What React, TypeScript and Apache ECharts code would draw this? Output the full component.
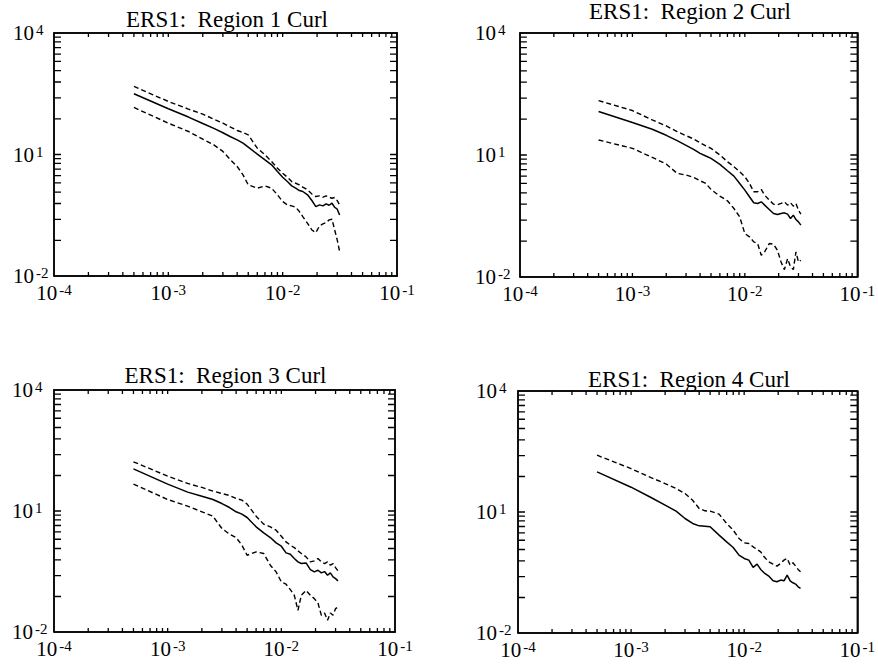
import React, { useEffect, useRef } from 'react';
import * as echarts from 'echarts';

// frequency (shared by all panels)
const freq = [0.0005, 0.001, 0.0015, 0.002, 0.0025, 0.003, 0.0035, 0.004, 0.0045, 0.005, 0.006, 0.007, 0.008, 0.009, 0.010, 0.011, 0.012, 0.013, 0.014, 0.015, 0.0165, 0.018, 0.0195, 0.021, 0.0225, 0.024, 0.0255, 0.027, 0.0285, 0.030, 0.0315];

// Region 1
const r1Curl = [316, 135, 84, 58.3, 44.0, 34.4, 27.4, 23.0, 19.1, 15.2, 10.2, 7.38, 5.55, 3.80, 2.75, 2.15, 1.68, 1.47, 1.29, 1.22, 1.01, 0.73, 0.518, 0.57, 0.538, 0.603, 0.558, 0.627, 0.499, 0.446, 0.322];
const r1Upper = [480, 204, 132, 99.3, 74.6, 59.6, 47.4, 39.2, 35.0, 30.6, 14.3, 9.82, 6.71, 4.59, 3.45, 2.75, 2.15, 1.95, 1.78, 1.56, 1.34, 1.06, 0.916, 0.951, 0.881, 0.951, 0.881, 0.832, 0.865, 0.729, 0.570];
const r1Lower = [145, 59.4, 37.0, 23.9, 17.3, 11.9, 7.38, 5.05, 3.14, 1.78, 1.47, 1.68, 1.47, 1.01, 0.689, 0.570, 0.538, 0.499, 0.390, 0.293, 0.200, 0.137, 0.118, 0.172, 0.193, 0.208, 0.243, 0.252, 0.137, 0.0776, 0.040];

// Region 2
const r2Curl = [117, 62.7, 42.9, 30.5, 22.5, 17.3, 13.8, 11.0, 9.44, 8.26, 5.89, 4.11, 3.03, 2.00, 1.37, 0.94, 0.668, 0.643, 0.706, 0.585, 0.457, 0.365, 0.344, 0.365, 0.378, 0.351, 0.274, 0.332, 0.259, 0.227, 0.188];
const r2Upper = [218, 124, 72.8, 51.9, 37.6, 29.9, 24.8, 20.1, 16.7, 14.6, 10.0, 6.84, 5.15, 3.88, 2.92, 2.00, 1.25, 1.25, 1.42, 1.03, 0.776, 0.619, 0.596, 0.643, 0.706, 0.585, 0.668, 0.552, 0.643, 0.441, 0.351];
const r2Lower = [23.4, 14.6, 8.75, 6.00, 3.53, 3.21, 2.81, 2.33, 2.00, 1.42, 0.975, 0.748, 0.484, 0.302, 0.117, 0.097, 0.073, 0.0664, 0.0343, 0.0414, 0.0664, 0.064, 0.0455, 0.0234, 0.0152, 0.0283, 0.0177, 0.0152, 0.0414, 0.0234, 0.0258];

// Region 3
const r3Curl = [111, 46.3, 29.4, 23.3, 19.3, 15.3, 12.2, 9.55, 8.36, 6.90, 4.05, 2.87, 2.20, 1.62, 1.34, 0.916, 0.849, 0.662, 0.547, 0.498, 0.516, 0.353, 0.309, 0.340, 0.292, 0.315, 0.255, 0.292, 0.232, 0.211, 0.185];
const r3Upper = [166, 73.3, 48.2, 38.4, 31.1, 27.2, 24.3, 20.5, 18.6, 14.8, 7.45, 4.71, 4.05, 3.34, 2.37, 1.72, 1.42, 1.24, 1.03, 0.881, 0.728, 0.547, 0.579, 0.662, 0.547, 0.498, 0.547, 0.452, 0.498, 0.396, 0.327];
const r3Lower = [46.3, 19.3, 13.2, 9.55, 7.45, 3.68, 2.66, 2.20, 1.42, 0.80, 0.97, 0.881, 0.452, 0.309, 0.175, 0.153, 0.112, 0.0815, 0.0345, 0.0815, 0.108, 0.0815, 0.0673, 0.0525, 0.0259, 0.0296, 0.0195, 0.0296, 0.0259, 0.038, 0.0418];

// Region 4
const r4Curl = [98.9, 41.2, 22.9, 14.8, 10.5, 6.90, 5.19, 4.54, 4.46, 4.30, 2.67, 1.82, 1.32, 0.853, 0.705, 0.641, 0.423, 0.511, 0.377, 0.311, 0.258, 0.197, 0.186, 0.205, 0.197, 0.273, 0.197, 0.176, 0.163, 0.140, 0.127];
const r4Upper = [256, 119, 71.4, 50.8, 38.2, 28.7, 19.6, 12.2, 10.7, 10.5, 8.83, 5.19, 3.55, 2.21, 1.72, 1.66, 1.37, 1.18, 1.03, 0.776, 0.583, 0.511, 0.456, 0.531, 0.641, 0.705, 0.482, 0.551, 0.456, 0.377, 0.330];

const titles = ['ERS1:  Region 1 Curl', 'ERS1:  Region 2 Curl', 'ERS1:  Region 3 Curl', 'ERS1:  Region 4 Curl'];

// tick label exponents (powers of ten)
const xLabelExps = [-4, -3, -2, -1];
const yLabelExps = [-2, 1, 4];
// tick positions (exponents) on the y axes, ascending
const yTickExps = [-1.12, -0.6, -0.21, 0.07, 0.3, 0.48, 0.64, 0.78, 0.9, 1, 1.88, 2.4, 2.79, 3.07, 3.3, 3.48, 3.64, 3.78, 3.9];
const xDecades = [-4, -3, -2];
const xMultipliers = [1, 2, 3, 4, 5, 6, 7, 8, 9];

const panels = [
  { solid: r1Curl, dashed: [r1Upper, r1Lower] },
  { solid: r2Curl, dashed: [r2Upper, r2Lower] },
  { solid: r3Curl, dashed: [r3Upper, r3Lower] },
  { solid: r4Curl, dashed: [r4Upper] },
];

const FONT = '"Liberation Serif", "Times New Roman", serif';

const gridBoxes = [
  { left: 54, top: 33, width: 343, height: 243 },
  { left: 520, top: 33, width: 343, height: 244 },
  { left: 54, top: 390, width: 341, height: 242 },
  { left: 518, top: 391, width: 341, height: 242 },
];
const titlePos = [
  { x: 227, y: 19 },
  { x: 690, y: 11.5 },
  { x: 225.5, y: 375.5 },
  { x: 689, y: 379 },
];
const yLabelMargin = [41, 45, 42, 42];
const X_TICK_PX = 4;
const Y_TICK_PX = 7;

export default function App() {
  const ref = useRef<HTMLDivElement>(null);
  useEffect(() => {
    if (!ref.current) return;
    const chart = echarts.init(ref.current, undefined, { renderer: 'svg' });
    const xTickExps: number[] = [];
    xDecades.forEach((d) => xMultipliers.forEach((m) => { if (!(d === -4 && m === 1)) xTickExps.push(d + Math.log10(m)); }));

    const black = '#000';
    const rich = {
      b: { fontSize: 21, fontFamily: FONT, color: black },
      s: { fontSize: 15, fontFamily: FONT, color: black, verticalAlign: 'top' as const, padding: [0, 0, 0, 2] },
    };
    const fmt = (v: number) => `{b|10}{s|${Math.round(v)}}`;
    const lineStyle = { color: black, width: 1.6 };

    const xAxes: any[] = [];
    const yAxes: any[] = [];
    const series: any[] = [];
    const grids: any[] = [];
    const graphics: any[] = [];

    panels.forEach((p, i) => {
      const box = gridBoxes[i];
      grids.push({ ...box, containLabel: false, show: false });
      ['bottom', 'top'].forEach((pos) => {
        xAxes.push({
          type: 'value', gridIndex: i, position: pos, min: -4, max: -1,
          axisLine: { show: true, onZero: false, lineStyle },
          axisTick: { show: false },
          axisLabel: pos === 'bottom'
            ? { show: true, customValues: xLabelExps, formatter: fmt, rich, margin: 6, fontFamily: FONT, color: black }
            : { show: false },
          splitLine: { show: false },
        });
      });
      ['left', 'right'].forEach((pos) => {
        yAxes.push({
          type: 'value', gridIndex: i, position: pos, min: -2, max: 4,
          axisLine: { show: true, onZero: false, lineStyle },
          axisTick: { show: false },
          axisLabel: pos === 'left'
            ? { show: true, customValues: yLabelExps, formatter: fmt, rich, align: 'left', margin: yLabelMargin[i], fontFamily: FONT, color: black }
            : { show: false },
          splitLine: { show: false },
        });
      });

      // tick marks: one continuous "comb" line running round the frame, stepping in at each tick
      const dy = (X_TICK_PX / box.height) * 6;
      const dx = (Y_TICK_PX / box.width) * 3;
      const comb: number[][] = [[-4, -2]];
      xTickExps.forEach((v) => { comb.push([v, -2], [v, -2 + dy], [v, -2]); });
      comb.push([-1, -2]);
      yTickExps.forEach((v) => { comb.push([-1, v], [-1 - dx, v], [-1, v]); });
      comb.push([-1, 4]);
      [...xTickExps].reverse().forEach((v) => { comb.push([v, 4], [v, 4 - dy], [v, 4]); });
      comb.push([-4, 4]);
      [...yTickExps].reverse().forEach((v) => { comb.push([-4, v], [-4 + dx, v], [-4, v]); });
      comb.push([-4, -2]);
      series.push({
        type: 'line', xAxisIndex: 2 * i, yAxisIndex: 2 * i, data: comb, clip: false,
        showSymbol: false, symbol: 'none', silent: true, z: 5,
        lineStyle: { color: black, width: 1.3, type: 'solid', join: 'miter', cap: 'butt' },
      });

      const toData = (vals: number[]) => freq.map((f, j) => [Math.log10(f), Math.log10(vals[j])]);
      series.push({
        type: 'line', xAxisIndex: 2 * i, yAxisIndex: 2 * i, data: toData(p.solid), clip: false,
        showSymbol: false, symbol: 'none', lineStyle: { color: black, width: 1.5, type: 'solid' },
      });
      p.dashed.forEach((d) => {
        series.push({
          type: 'line', xAxisIndex: 2 * i, yAxisIndex: 2 * i, data: toData(d), clip: false,
          showSymbol: false, symbol: 'none', lineStyle: { color: black, width: 1.4, type: [5, 3] },
        });
      });
      graphics.push({
        type: 'text', x: titlePos[i].x, y: titlePos[i].y,
        style: { text: titles[i], fill: black, font: `23px ${FONT}`, align: 'center', verticalAlign: 'middle' },
      });
    });

    chart.setOption({
      animation: false,
      backgroundColor: '#fff',
      grid: grids,
      xAxis: xAxes,
      yAxis: yAxes,
      series,
      graphic: graphics,
    });
    return () => chart.dispose();
  }, []);
  return <div ref={ref} style={{ position: 'absolute', left: 0, top: 0, width: 878, height: 667 }} />;
}
